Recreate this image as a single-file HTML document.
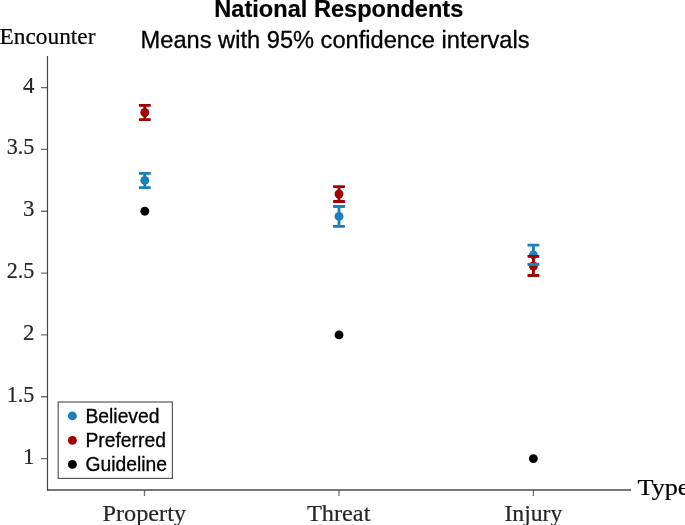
<!DOCTYPE html>
<html><head><meta charset="utf-8">
<style>
html,body{margin:0;padding:0;background:#fff;}
body{width:685px;height:525px;overflow:hidden;}
svg{display:block;will-change:transform;}
.serif{font-family:"Liberation Serif",serif;fill:#000;}
.sans{font-family:"Liberation Sans",sans-serif;fill:#000;}
</style></head>
<body>
<svg width="685" height="525" viewBox="0 0 685 525" xmlns="http://www.w3.org/2000/svg">
<rect width="685" height="525" fill="#fff"/>
<text class="sans" x="338.80" y="17.25" font-size="24" text-anchor="middle" textLength="249.00" lengthAdjust="spacingAndGlyphs" font-weight="bold" style="stroke:#000;stroke-width:0.2px;">National Respondents</text>
<text class="sans" x="335.10" y="48.10" font-size="24.6" text-anchor="middle" textLength="389.00" lengthAdjust="spacingAndGlyphs" style="stroke:#000;stroke-width:0.3px;">Means with 95% confidence intervals</text>
<text class="serif" x="-0.50" y="44.00" font-size="23" textLength="96.00" lengthAdjust="spacingAndGlyphs" style="stroke:#000;stroke-width:0.2px;">Encounter</text>
<text class="serif" x="637.50" y="494.80" font-size="23" textLength="52.00" lengthAdjust="spacingAndGlyphs" style="stroke:#000;stroke-width:0.2px;">Type</text>
<text class="serif" x="144.30" y="520.70" font-size="23" text-anchor="middle" textLength="83.50" lengthAdjust="spacingAndGlyphs" style="fill:#262626;stroke:#262626;stroke-width:0.2px;">Property</text>
<text class="serif" x="338.70" y="520.70" font-size="23" text-anchor="middle" textLength="63.50" lengthAdjust="spacingAndGlyphs" style="fill:#262626;stroke:#262626;stroke-width:0.2px;">Threat</text>
<text class="serif" x="533.40" y="521.00" font-size="23" text-anchor="middle" textLength="58.00" lengthAdjust="spacingAndGlyphs" style="fill:#262626;stroke:#262626;stroke-width:0.2px;">Injury</text>
<text class="serif" x="34.40" y="92.60" font-size="22.8" text-anchor="end" style="fill:#262626;stroke:#262626;stroke-width:0.2px;">4</text>
<text class="serif" x="34.40" y="154.43" font-size="22.8" text-anchor="end" textLength="27.60" lengthAdjust="spacingAndGlyphs" style="fill:#262626;stroke:#262626;stroke-width:0.2px;">3.5</text>
<text class="serif" x="34.40" y="216.25" font-size="22.8" text-anchor="end" style="fill:#262626;stroke:#262626;stroke-width:0.2px;">3</text>
<text class="serif" x="34.40" y="278.08" font-size="22.8" text-anchor="end" textLength="27.60" lengthAdjust="spacingAndGlyphs" style="fill:#262626;stroke:#262626;stroke-width:0.2px;">2.5</text>
<text class="serif" x="34.40" y="339.90" font-size="22.8" text-anchor="end" style="fill:#262626;stroke:#262626;stroke-width:0.2px;">2</text>
<text class="serif" x="34.40" y="401.73" font-size="22.8" text-anchor="end" textLength="27.60" lengthAdjust="spacingAndGlyphs" style="fill:#262626;stroke:#262626;stroke-width:0.2px;">1.5</text>
<text class="serif" x="34.40" y="463.55" font-size="22.8" text-anchor="end" style="fill:#262626;stroke:#262626;stroke-width:0.2px;">1</text>
<path d="M41 87.6 H47.5 M41 149.43 H47.5 M41 211.25 H47.5 M41 273.08 H47.5 M41 334.9 H47.5 M41 396.73 H47.5 M41 458.55 H47.5" stroke="#707070" stroke-width="1.3" fill="none"/>
<path d="M144.5 490 V496 M339 490 V496 M533.4 490 V496" stroke="#707070" stroke-width="1.3" fill="none"/>
<path d="M47.5 56 V490.6" stroke="#444" stroke-width="1.2" fill="none"/>
<path d="M47 490 H631" stroke="#4a4a4a" stroke-width="1.3" fill="none"/>
<circle cx="144.8" cy="211.2" r="4.45" fill="#000"/>
<circle cx="339" cy="334.9" r="4.45" fill="#000"/>
<circle cx="533.4" cy="458.6" r="4.45" fill="#000"/>
<circle cx="144.8" cy="180.4" r="4.45" fill="#1a80bb"/>
<circle cx="339" cy="216.4" r="4.45" fill="#1a80bb"/>
<circle cx="533.4" cy="254.9" r="4.45" fill="#1a80bb"/>
<circle cx="144.8" cy="112.5" r="4.45" fill="#a00000"/>
<circle cx="339" cy="194" r="4.45" fill="#a00000"/>
<circle cx="533.4" cy="266" r="4.45" fill="#a00000"/>
<g stroke-width="2.8" fill="none">
<path stroke="#1a80bb" d="M144.8 173.4 V187.6 M339 206.5 V226.3 M533.4 245.2 V264.5"/>
<path stroke="#a00000" d="M144.8 105.4 V119.7 M339 186.7 V201.5 M533.4 256.3 V275.5"/>
<path stroke="#1a80bb" stroke-width="2.8" d="M138.90 173.4 H150.70 M138.90 187.6 H150.70 M333.10 206.5 H344.90 M333.10 226.3 H344.90 M527.50 245.2 H539.30 M527.50 264.5 H539.30"/>
<path stroke="#a00000" stroke-width="2.8" d="M138.90 105.4 H150.70 M138.90 119.7 H150.70 M333.10 186.7 H344.90 M333.10 201.5 H344.90 M527.50 256.3 H539.30 M527.50 275.5 H539.30"/>
</g>
<rect x="58.2" y="402" width="114.2" height="76.39999999999998" fill="#fff" stroke="#5a5a5a" stroke-width="1.2"/>
<circle cx="72.4" cy="415.9" r="4.45" fill="#1a80bb"/>
<circle cx="72.4" cy="440.4" r="4.45" fill="#a00000"/>
<circle cx="72.4" cy="464.4" r="4.45" fill="#000"/>
<text class="sans" x="85.50" y="423.00" font-size="19.3" style="stroke:#000;stroke-width:0.3px;">Believed</text>
<text class="sans" x="85.50" y="447.00" font-size="19.3" style="stroke:#000;stroke-width:0.3px;">Preferred</text>
<text class="sans" x="85.50" y="471.00" font-size="19.3" style="stroke:#000;stroke-width:0.3px;">Guideline</text>
</svg>
</body></html>
